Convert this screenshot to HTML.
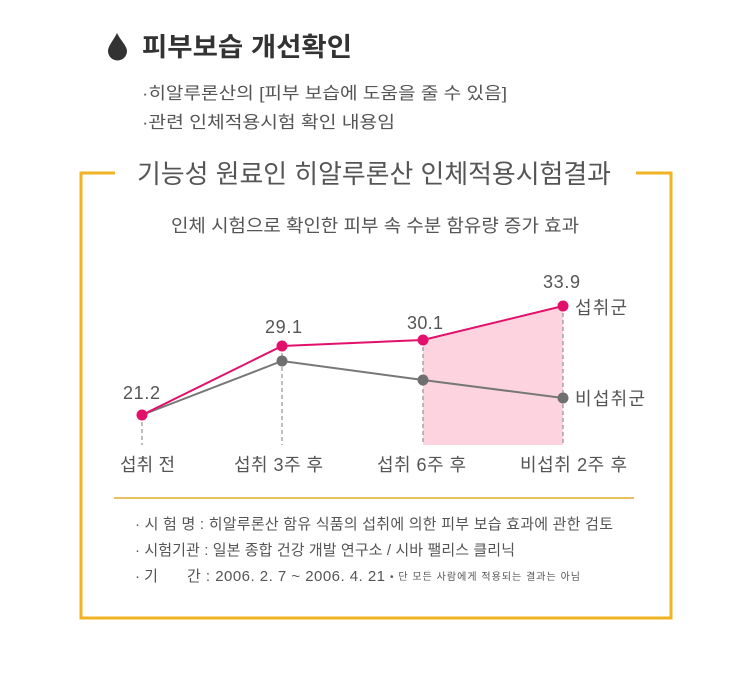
<!DOCTYPE html>
<html><head><meta charset="utf-8"><style>
body{margin:0;background:#fff;width:748px;height:671px;overflow:hidden;font-family:"Liberation Sans","Noto Sans CJK KR",sans-serif;}
</style></head><body>
<svg width="748" height="671" xmlns="http://www.w3.org/2000/svg" xml:space="preserve" style="font-family:'Liberation Sans','Noto Sans CJK KR',sans-serif">
<path d="M117 33 C113 41 108 46 108 51 A9.5 9.5 0 0 0 127 51 C127 46 121 41 117 33Z" fill="#333"/>
<text x="142" y="56" font-size="26" font-weight="bold" fill="#333" textLength="210" lengthAdjust="spacingAndGlyphs">피부보습 개선확인</text>
<text x="142" y="99" font-size="17" fill="#555" textLength="365" lengthAdjust="spacingAndGlyphs">·히알루론산의 [피부 보습에 도움을 줄 수 있음]</text>
<text x="142" y="128" font-size="17" fill="#555" textLength="253" lengthAdjust="spacingAndGlyphs">·관련 인체적용시험 확인 내용임</text>
<path d="M115 173 H81 V618 H671 V173 H636" fill="none" stroke="#f0b323" stroke-width="3"/>
<text x="137" y="183" font-size="26" fill="#555" textLength="474" lengthAdjust="spacingAndGlyphs">기능성 원료인 히알루론산 인체적용시험결과</text>
<text x="171" y="232" font-size="18" fill="#555" textLength="408" lengthAdjust="spacingAndGlyphs">인체 시험으로 확인한 피부 속 수분 함유량 증가 효과</text>
<polygon points="423,340 563,306 563,445 423,445" fill="#fcd3de"/>
<g stroke="#999" stroke-dasharray="4,3" stroke-width="1.3">
<line x1="142" y1="415" x2="142" y2="445"/><line x1="282" y1="346" x2="282" y2="445"/>
<line x1="423" y1="340" x2="423" y2="445"/><line x1="563" y1="306" x2="563" y2="445"/></g>
<polyline points="142,415 282,361 423,380 563,398" fill="none" stroke="#777" stroke-width="2"/>
<g fill="#6f6f6f"><circle cx="282" cy="361" r="5.5"/><circle cx="423" cy="380" r="5.5"/><circle cx="563" cy="398" r="5.5"/></g>
<polyline points="142,415 282,346 423,340 563,306" fill="none" stroke="#e2106a" stroke-width="2"/>
<g fill="#e2106a"><circle cx="142" cy="415" r="5.5"/><circle cx="282" cy="346" r="5.5"/><circle cx="423" cy="340" r="5.5"/><circle cx="563" cy="306" r="5.5"/></g>
<g font-size="18" fill="#555" lengthAdjust="spacingAndGlyphs">
<text x="123" y="399" textLength="37">21.2</text><text x="265" y="333" textLength="37">29.1</text><text x="407" y="329" textLength="36">30.1</text><text x="543" y="288" textLength="37">33.9</text>
<text x="120" y="471" textLength="55">섭취 전</text><text x="234" y="471" textLength="89">섭취 3주 후</text><text x="377" y="471" textLength="89">섭취 6주 후</text><text x="520" y="471" textLength="107">비섭취 2주 후</text>
<text x="575" y="314" textLength="52">섭취군</text>
<text x="575" y="405" textLength="70">비섭취군</text>
</g>
<line x1="114" y1="498" x2="634" y2="498" stroke="#e8c060" stroke-width="2"/>
<g font-size="15" fill="#555" lengthAdjust="spacingAndGlyphs">
<text x="135" y="529" textLength="478">· 시  험  명 : 히알루론산 함유 식품의 섭취에 의한 피부 보습 효과에 관한 검토</text>
<text x="135" y="555" textLength="380">· 시험기관 : 일본 종합 건강 개발 연구소 / 시바 팰리스 클리닉</text>
<text x="135" y="581">· 기</text>
<text x="187" y="581" textLength="198">간 : 2006. 2. 7 ~ 2006. 4. 21</text>
<text x="390" y="580" font-size="10" textLength="190">• 단 모든 사람에게 적용되는 결과는 아님</text>
</g>
</svg>
</body></html>
